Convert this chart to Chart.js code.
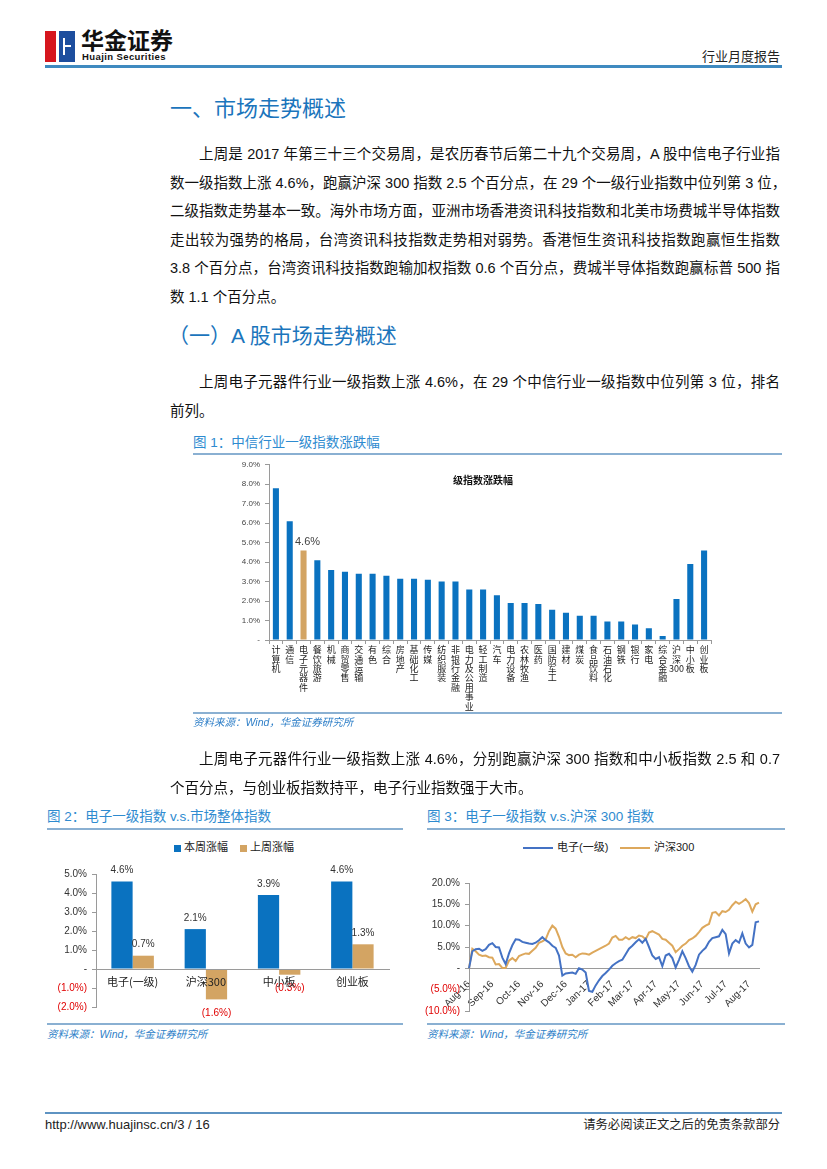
<!DOCTYPE html>
<html><head><meta charset="utf-8">
<script src="https://cdn.jsdelivr.net/npm/chart.js@4.4.1/dist/chart.umd.min.js"></script>
<style>
html,body{margin:0;padding:0;background:#fff;}
#page{position:relative;width:827px;height:1169px;overflow:hidden;font-family:"Liberation Sans","Noto Sans CJK SC",sans-serif;color:#111;background:#fff;}
.abs{position:absolute;white-space:nowrap;}
.h1{font-size:22px;line-height:30px;color:#1B75BC;}
.h2{font-size:21px;line-height:30px;color:#1B75BC;}
.p{position:absolute;left:170px;width:610px;font-size:14.5px;line-height:28.6px;color:#111;}
.p div{white-space:nowrap;}
.p .j{text-align:justify;text-align-last:justify;}
.p .ind{padding-left:29px;}
.figt{font-size:13.5px;line-height:18px;color:#2E8BD0;}
.rule{position:absolute;height:1.5px;background:#8AB0D2;}
.src{font-size:10.5px;line-height:16px;color:#2E7FC8;font-style:italic;}
.cv{position:absolute;}
.leg{font-size:11px;line-height:14px;color:#222;}
.sq{position:absolute;width:7px;height:7px;}
.ln{position:absolute;width:30px;height:2px;}
</style></head>
<body><div id="page">

<!-- header -->
<div class="abs" style="left:45px;top:31px;width:13px;height:31px;background:#D6161E;"></div>
<div class="abs" style="left:58px;top:31px;width:17px;height:31px;background:#1D4E9E;"></div>
<div class="abs" style="left:56px;top:31px;width:3px;height:31px;background:#fff;"></div>
<div class="abs" style="left:63px;top:38px;width:2px;height:17px;background:#fff;"></div>
<div class="abs" style="left:63px;top:45px;width:8px;height:2px;background:#fff;"></div>
<div class="abs" style="left:81px;top:27px;font-size:23px;line-height:24px;font-weight:bold;font-family:'Noto Sans CJK SC';color:#111;">华金证券</div>
<div class="abs" style="left:82px;top:51px;font-size:9.5px;line-height:11px;font-weight:bold;letter-spacing:0.4px;color:#111;">Huajin Securities</div>
<div class="abs" style="right:47px;top:48px;font-size:13px;line-height:18px;color:#222;">行业月度报告</div>
<div class="rule" style="left:45px;top:65px;width:737px;height:2.5px;background:#3F8AC0;"></div>

<!-- section text -->
<div class="abs h1" style="left:170px;top:94px;">一、市场走势概述</div>
<div class="p" style="top:140px;">
<div class="j ind">上周是 2017 年第三十三个交易周，是农历春节后第二十九个交易周，A 股中信电子行业指</div>
<div class="j">数一级指数上涨 4.6%，跑赢沪深 300 指数 2.5 个百分点，在 29 个一级行业指数中位列第 3 位，</div>
<div class="j">二级指数走势基本一致。海外市场方面，亚洲市场香港资讯科技指数和北美市场费城半导体指数</div>
<div class="j">走出较为强势的格局，台湾资讯科技指数走势相对弱势。香港恒生资讯科技指数跑赢恒生指数</div>
<div class="j">3.8 个百分点，台湾资讯科技指数跑输加权指数 0.6 个百分点，费城半导体指数跑赢标普 500 指</div>
<div>数 1.1 个百分点。</div>
</div>
<div class="abs h2" style="left:168px;top:321px;">（一）A 股市场走势概述</div>
<div class="p" style="top:368px;">
<div class="j ind">上周电子元器件行业一级指数上涨 4.6%，在 29 个中信行业一级指数中位列第 3 位，排名</div>
<div>前列。</div>
</div>

<!-- figure 1 -->
<div class="abs figt" style="left:193px;top:434px;">图 1：中信行业一级指数涨跌幅</div>
<div class="rule" style="left:193px;top:453px;width:589px;"></div>
<div class="cv" style="left:193px;top:455px;width:589px;height:260px;"><canvas id="c1"></canvas></div>
<div class="abs" style="left:453px;top:473px;font-size:10px;line-height:14px;font-weight:bold;color:#111;font-family:'Noto Sans CJK SC';">级指数涨跌幅</div>
<div class="rule" style="left:193px;top:712px;width:589px;"></div>
<div class="abs src" style="left:193px;top:714px;">资料来源：Wind，华金证券研究所</div>

<div class="p" style="top:745px;">
<div class="j ind">上周电子元器件行业一级指数上涨 4.6%，分别跑赢沪深 300 指数和中小板指数 2.5 和 0.7</div>
<div>个百分点，与创业板指数持平，电子行业指数强于大市。</div>
</div>

<!-- figure 2 -->
<div class="abs figt" style="left:47px;top:808px;">图 2：电子一级指数 v.s.市场整体指数</div>
<div class="rule" style="left:47px;top:828px;width:356px;"></div>
<div class="sq" style="left:174px;top:845px;background:#0A72C0;"></div>
<div class="abs leg" style="left:184px;top:840px;">本周涨幅</div>
<div class="sq" style="left:240px;top:845px;background:#D3A463;"></div>
<div class="abs leg" style="left:250px;top:840px;">上周涨幅</div>
<div class="cv" style="left:40px;top:860px;width:365px;height:162px;"><canvas id="c2"></canvas></div>
<div class="rule" style="left:47px;top:1023px;width:356px;"></div>
<div class="abs src" style="left:47px;top:1026px;">资料来源：Wind，华金证券研究所</div>

<!-- figure 3 -->
<div class="abs figt" style="left:427px;top:808px;">图 3：电子一级指数 v.s.沪深 300 指数</div>
<div class="rule" style="left:427px;top:828px;width:358px;"></div>
<div class="ln" style="left:523px;top:847px;background:#4472C4;"></div>
<div class="abs leg" style="left:557px;top:840px;">电子(一级)</div>
<div class="ln" style="left:620px;top:847px;background:#DDA85C;"></div>
<div class="abs leg" style="left:654px;top:840px;">沪深300</div>
<div class="cv" style="left:420px;top:860px;width:370px;height:162px;"><canvas id="c3"></canvas></div>
<div class="rule" style="left:427px;top:1023px;width:358px;"></div>
<div class="abs src" style="left:427px;top:1026px;">资料来源：Wind，华金证券研究所</div>

<!-- footer -->
<div class="rule" style="left:45px;top:1112px;width:737px;height:2px;background:#5E93C2;"></div>
<div class="abs" style="left:45px;top:1116px;font-size:13px;line-height:18px;color:#222;font-family:'Liberation Sans Narrow','Liberation Sans';">http://www.huajinsc.cn/3 / 16</div>
<div class="abs" style="right:47px;top:1116px;font-size:12.3px;line-height:18px;color:#222;">请务必阅读正文之后的免责条款部分</div>

</div>
<script>
// ---------- Figure 1 data ----------
const industryNames = ['计算机','通信','电子元器件','餐饮旅游','机械','商贸零售','交通运输','有色','综合','房地产','基础化工','传媒','纺织服装','非银行金融','电力及公用事业','轻工制造','汽车','电力设备','农林牧渔','医药','国防军工','建材','煤炭','食品饮料','石油石化','钢铁','银行','家电','综合金融','沪深300','中小板','创业板'];
const industryChange = [7.8,6.1,4.6,4.1,3.6,3.5,3.4,3.4,3.3,3.15,3.15,3.1,3.0,3.0,2.6,2.6,2.3,1.9,1.9,1.85,1.55,1.4,1.25,1.25,0.95,0.95,0.8,0.6,0.2,2.1,3.9,4.6];
const highlightName = '电子元器件';

// ---------- Figure 2 data ----------
const marketCats = ['电子(一级)','沪深300','中小板','创业板'];
const thisWeek = [4.6,2.1,3.9,4.6];
const lastWeek = [0.7,-1.6,-0.3,1.3];

// ---------- Figure 3 data ----------
const monthTicks = ['Aug-16','Sep-16','Oct-16','Nov-16','Dec-16','Jan-17','Feb-17','Mar-17','Apr-17','May-17','Jun-17','Jul-17','Aug-17'];
const monthTickIdx = [0,7,15,22,29,36,43,49,56,63,70,77,84];
const elecSeries = [0,4.0,4.5,4.6,4.1,4.5,5.5,5.9,5.0,4.9,2.5,1.0,3.5,5.4,6.8,6.7,6.2,6.0,5.8,5.7,6.0,6.6,7.3,6.6,6.1,5.3,4.8,3.0,-1.7,-1.2,-1.1,-1.0,-1.3,0.0,-0.3,-1.0,-5.3,-5.5,-4.0,-2.8,-1.8,-1.1,-0.3,0.6,1.2,1.7,2.0,3.3,4.6,5.3,6.1,6.8,6.0,6.9,5.0,3.0,2.2,2.6,0.5,3.0,3.4,2.4,0.2,2.0,4.0,2.4,0.5,-0.8,0.8,3.2,4.1,4.8,6.2,7.1,7.3,7.5,9.0,8.0,3.5,5.8,6.6,6.0,8.2,5.8,4.9,5.5,10.8,11.0];
const hs300Series = [0,4.6,4.0,3.2,2.9,3.0,2.6,2.5,0.9,1.0,0.1,0.1,1.8,2.4,1.7,2.9,3.2,3.5,3.4,4.1,4.8,6.0,6.3,6.8,8.7,10.0,9.3,7.4,5.0,3.5,3.1,3.2,2.6,3.2,3.5,3.4,3.2,3.7,4.1,4.5,4.9,5.3,5.8,7.2,7.6,6.7,6.7,7.3,6.8,7.3,7.1,7.7,7.5,6.8,8.4,8.7,8.3,7.9,6.9,6.7,6.0,5.3,3.8,4.5,5.3,5.8,6.6,7.0,7.6,8.5,9.5,10.0,10.4,13.0,13.2,12.4,13.4,13.2,13.7,14.8,15.6,15.1,15.6,16.2,15.3,13.3,15.0,15.4];

// ---------- styling ----------
const BLUE = '#0A72C0', TAN = '#D3A463', RED = '#E00000';
const LINE_BLUE = '#4472C4', LINE_ORANGE = '#DDA85C';
const AXIS = '#9a9a9a';
Chart.defaults.font.family = '"Liberation Sans","Noto Sans CJK SC",sans-serif';
Chart.defaults.color = '#333';
Chart.defaults.animation = false;

const pctPlain = v => v === 0 ? '-' : v.toFixed(1) + '%';
const pctParen = v => v === 0 ? '-' : (v < 0 ? '(' + Math.abs(v).toFixed(1) + '%)' : v.toFixed(1) + '%');
const negRed = c => (c.tick && c.tick.value < 0) ? RED : '#333';

function makeLabelPlugin(cfg) {
  return {
    id: 'valLabels' + Math.random().toString(36).slice(2),
    afterDatasetsDraw(chart) {
      const ctx = chart.ctx;
      ctx.save();
      ctx.font = cfg.font;
      ctx.textAlign = 'center';
      ctx.textBaseline = 'middle';
      chart.data.datasets.forEach((ds, di) => {
        chart.getDatasetMeta(di).data.forEach((el, i) => {
          if (cfg.filter && !cfg.filter(di, i)) return;
          const v = ds.data[i];
          const y = v >= 0 ? el.y - cfg.up : el.y + cfg.down;
          ctx.fillStyle = v < 0 ? cfg.neg : cfg.color;
          ctx.fillText(cfg.format(v), el.x + (cfg.dx || 0), y);
        });
      });
      ctx.restore();
    }
  };
}

// ---------- Figure 1 ----------
const hiIdx = industryNames.indexOf(highlightName);
new Chart(document.getElementById('c1'), {
  type: 'bar',
  data: {
    labels: industryNames.map(n => n.match(/\d+|./g)),
    datasets: [{
      data: industryChange,
      backgroundColor: industryNames.map((n, i) => i === hiIdx ? TAN : BLUE),
      barPercentage: 0.44, categoryPercentage: 1.0
    }]
  },
  options: {
    responsive: true, maintainAspectRatio: false,
    layout: { padding: { top: 5, right: 71, left: 0, bottom: 0 } },
    plugins: { legend: { display: false }, tooltip: { enabled: false } },
    scales: {
      x: {
        grid: { display: true, drawOnChartArea: false, tickLength: 4, color: AXIS },
        border: { color: AXIS },
        ticks: { autoSkip: false, maxRotation: 0, minRotation: 0, padding: 1, color: '#222',
                 font: { size: 9, lineHeight: 1.05, family: '"Noto Sans CJK SC",sans-serif' } },
        afterFit(s) { s.height = 75; }
      },
      y: {
        min: 0, max: 9,
        grid: { drawOnChartArea: false, tickLength: 4, color: AXIS },
        border: { color: AXIS },
        ticks: { stepSize: 1, padding: 5, callback: v => pctPlain(v), font: { size: 8 }, color: '#444' },
        afterFit(s) { s.width = 76; }
      }
    }
  },
  plugins: [makeLabelPlugin({ font: '11px "Liberation Sans"', color: '#444', neg: RED, up: 8, down: 8, dx: 4,
    filter: (di, i) => i === hiIdx, format: v => v.toFixed(1) + '%' })]
});

// ---------- Figure 2 ----------
new Chart(document.getElementById('c2'), {
  type: 'bar',
  data: {
    labels: marketCats,
    datasets: [
      { label: '本周涨幅', data: thisWeek, backgroundColor: BLUE, barPercentage: 1.0, categoryPercentage: 0.58 },
      { label: '上周涨幅', data: lastWeek, backgroundColor: TAN, barPercentage: 1.0, categoryPercentage: 0.58 }
    ]
  },
  options: {
    responsive: true, maintainAspectRatio: false,
    layout: { padding: { top: 14, right: 16, left: 0, bottom: 15 } },
    plugins: { legend: { display: false }, tooltip: { enabled: false } },
    scales: {
      x: {
        position: { y: 0 },
        grid: { display: true, drawOnChartArea: false, drawTicks: false, z: 1 },
        border: { color: AXIS, z: 1 },
        ticks: { z: 1, padding: 6, color: '#222', font: { size: 11, family: '"Noto Sans CJK SC",sans-serif' } }
      },
      y: {
        min: -2, max: 5,
        grid: { drawOnChartArea: false, tickLength: 4, color: AXIS },
        border: { color: AXIS },
        ticks: { stepSize: 1, padding: 5, callback: v => pctParen(v), font: { size: 10 }, color: negRed },
        afterFit(s) { s.width = 56; }
      }
    }
  },
  plugins: [makeLabelPlugin({ font: '10px "Liberation Sans"', color: '#333', neg: RED, up: 11, down: 14,
    format: v => pctParen(v) })]
});

// ---------- Figure 3 ----------
const dayLabels = elecSeries.map((_, i) => { const k = monthTickIdx.indexOf(i); return k >= 0 ? monthTicks[k] : ''; });
new Chart(document.getElementById('c3'), {
  type: 'line',
  data: {
    labels: dayLabels,
    datasets: [
      { label: '电子(一级)', data: elecSeries, borderColor: LINE_BLUE, backgroundColor: LINE_BLUE, borderWidth: 2, pointRadius: 0, tension: 0 },
      { label: '沪深300', data: hs300Series, borderColor: LINE_ORANGE, backgroundColor: LINE_ORANGE, borderWidth: 2, pointRadius: 0, tension: 0 }
    ]
  },
  options: {
    responsive: true, maintainAspectRatio: false,
    layout: { padding: { top: 23, right: 31, left: 0, bottom: 7 } },
    plugins: { legend: { display: false }, tooltip: { enabled: false } },
    scales: {
      x: {
        position: { y: 0 },
        grid: { display: false },
        border: { color: AXIS },
        ticks: { autoSkip: false, maxRotation: 45, minRotation: 45, padding: 2, color: '#333', font: { size: 10 },
          callback(v) { const l = this.getLabelForValue(v); return l === '' ? null : l; } }
      },
      y: {
        min: -10, max: 20,
        grid: { drawOnChartArea: false, tickLength: 4, color: AXIS },
        border: { color: AXIS },
        ticks: { stepSize: 5, padding: 5, callback: v => pctParen(v), font: { size: 10 }, color: negRed },
        afterFit(s) { s.width = 49; }
      }
    }
  }
});
</script>
</body></html>
